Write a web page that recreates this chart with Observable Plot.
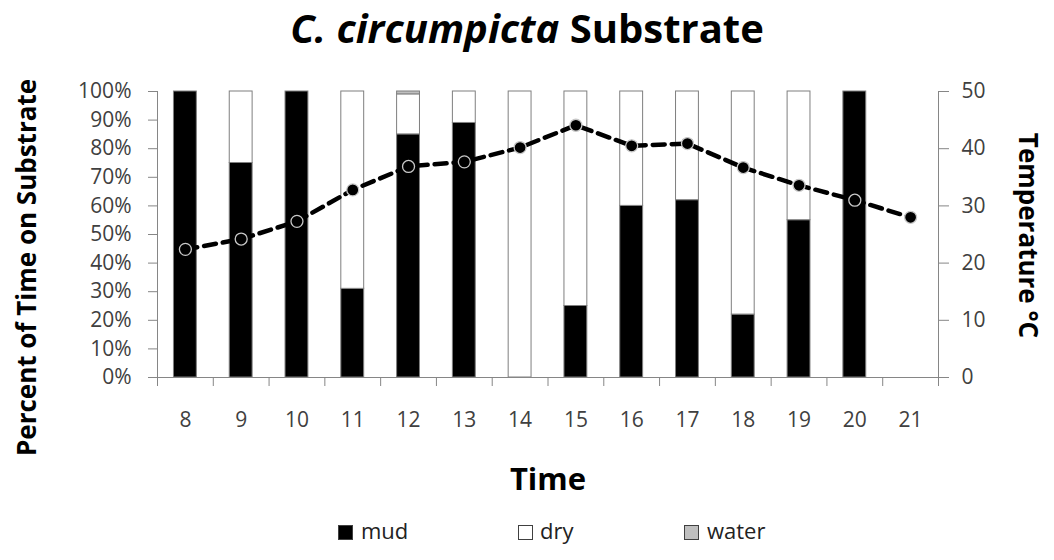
<!DOCTYPE html>
<html>
<head>
<meta charset="utf-8">
<script src="https://cdn.jsdelivr.net/npm/d3@7"></script>
<script src="https://cdn.jsdelivr.net/npm/@observablehq/plot@0.6"></script>
<style>
  html, body { margin: 0; padding: 0; background: #fff; }
  #wrap { width: 1054px; font-family: "Open Sans", sans-serif; }
  #title { height: 72px; text-align: center; font-weight: bold; font-size: 40px; line-height: 55px; color: #000; }
  #legend { position: relative; height: 48px; font-size: 22px; color: #222; }
  #legend .sw { position: absolute; width: 15px; height: 15px; box-sizing: border-box; border: 1px solid #404040; top: 13px; }
  #legend .lt { position: absolute; top: 7px; line-height: 23px; }
</style>
</head>
<body>
<div id="wrap">
  <div id="title"><i>C. circumpicta</i> Substrate</div>
  <div id="chart"></div>
  <div id="legend"></div>
</div>
<script>
// ---- data ----
const times = [8, 9, 10, 11, 12, 13, 14, 15, 16, 17, 18, 19, 20, 21];
const mud   = [100, 75, 100, 31, 85, 89, 0, 25, 60, 62, 22, 55, 100, 0];
const dry   = [0, 25, 0, 69, 14, 11, 100, 75, 40, 38, 78, 45, 0, 0];
const water = [0, 0, 0, 0, 1, 0, 0, 0, 0, 0, 0, 0, 0, 0];
const temperature = [22.4, 24.2, 27.3, 32.8, 36.9, 37.7, 40.2, 44.1, 40.5, 40.9, 36.7, 33.6, 31.0, 28.0];
const seriesNames = ["mud", "dry", "water"];
const seriesColors = ["#000000", "#ffffff", "#bfbfbf"];
const percentTicks = [0, 10, 20, 30, 40, 50, 60, 70, 80, 90, 100];
const tempTicks = [0, 10, 20, 30, 40, 50];

// ---- build tables ----
const seriesValues = {mud, dry, water};
const rows = [];
times.forEach((t, i) => {
  seriesNames.forEach(s => {
    if (seriesValues[s][i] > 0) rows.push({time: t, type: s, value: seriesValues[s][i]});
  });
});
const tempRows = times.map((t, i) => ({time: t, temp: temperature[i]}));

const W = 1054, H = 440, mL = 157, mR = 116, mT = 19, mB = 135;
const step = (W - mL - mR) / times.length;
const axisGray = "#868686";
const tempToPct = 100 / 50;
const firstT = times[0], lastT = times[times.length - 1];

const chart = Plot.plot({
  width: W,
  height: H,
  marginLeft: mL,
  marginRight: mR,
  marginTop: mT,
  marginBottom: mB,
  style: {fontFamily: "'Open Sans', sans-serif", fontSize: "21px", color: "#404040", background: "#fff"},
  x: {type: "band", domain: times, paddingInner: 0.59, paddingOuter: 0.295, round: false, axis: null},
  y: {domain: [0, 100], axis: null},
  color: {domain: seriesNames, range: seriesColors},
  marks: [
    Plot.barY(rows, {x: "time", y: "value", fill: "type", stroke: "#7f7f7f", strokeWidth: 1}),
    // axes
    Plot.ruleY([0], {stroke: axisGray}),
    Plot.ruleX([firstT], {dx: -step / 2, stroke: axisGray}),
    Plot.ruleX([lastT], {dx: step / 2, stroke: axisGray}),
    Plot.axisY({anchor: "left", ticks: percentTicks, tickFormat: d => d + "%", tickSize: 9, tickPadding: 17, stroke: axisGray, label: null, fontSize: 21}),
    Plot.axisY({anchor: "right", ticks: tempTicks.map(v => v * tempToPct), tickFormat: d => d / tempToPct, tickSize: 10, tickPadding: 13, stroke: axisGray, label: null, fontSize: 21}),
    Plot.axisX({tickSize: 9, tickFormat: () => "", dx: -step / 2, stroke: axisGray, label: null}),
    Plot.axisX({ticks: [lastT], tickSize: 9, tickFormat: () => "", dx: step / 2, stroke: axisGray, label: null}),
    Plot.axisX({tickSize: 0, tickPadding: 35, label: null, fontSize: 21}),
    // temperature line
    Plot.line(tempRows, {x: "time", y: d => d.temp * tempToPct, stroke: "#000", strokeWidth: 4.5, strokeDasharray: "12,7"}),
    Plot.dot(tempRows, {x: "time", y: d => d.temp * tempToPct, r: 6, fill: "#000", stroke: "#c8c8c8", strokeWidth: 1.3}),
    // axis titles
    Plot.text(["Percent of Time on Substrate"], {frameAnchor: "left", textAnchor: "middle", lineAnchor: "middle", rotate: -90, dx: -130, dy: 33, fontSize: 26, fontWeight: "bold", fill: "#000"}),
    Plot.text(["Temperature °C"], {frameAnchor: "right", textAnchor: "middle", lineAnchor: "middle", rotate: 90, dx: 89, dy: 1, fontSize: 26, fontWeight: "bold", fill: "#000"}),
    Plot.text(["Time"], {frameAnchor: "bottom", textAnchor: "middle", lineAnchor: "middle", dy: 103, fontSize: 31, fontWeight: "bold", fill: "#000"})
  ]
});
document.getElementById("chart").appendChild(chart);

// ---- legend ----
const legendPos = [[338, 361], [518, 540], [684, 707]];
const legend = document.getElementById("legend");
seriesNames.forEach((s, i) => {
  const sw = document.createElement("span");
  sw.className = "sw";
  sw.style.left = legendPos[i][0] + "px";
  sw.style.background = seriesColors[i];
  legend.appendChild(sw);
  const lt = document.createElement("span");
  lt.className = "lt";
  lt.style.left = legendPos[i][1] + "px";
  lt.textContent = s;
  legend.appendChild(lt);
});
</script>
</body>
</html>
